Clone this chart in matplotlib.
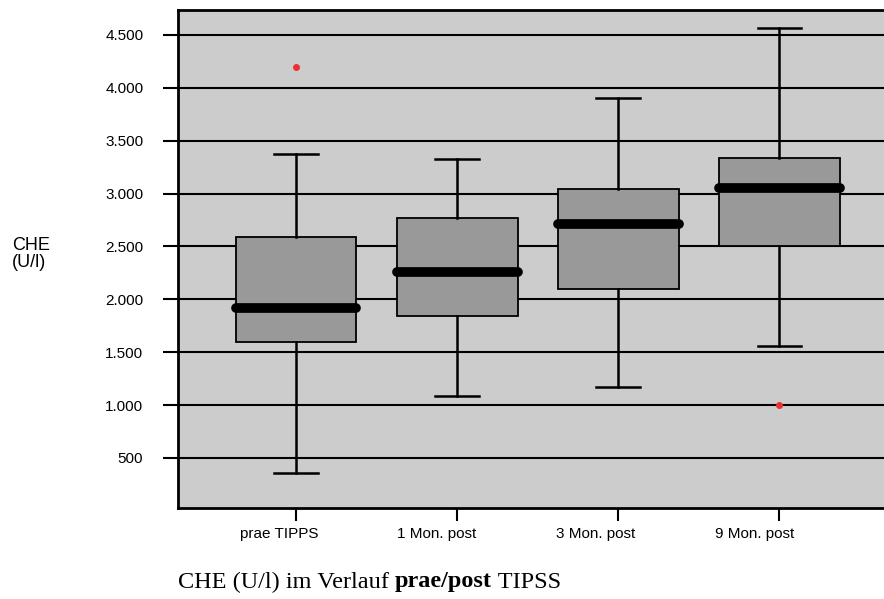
import matplotlib.pyplot as plt
import matplotlib.transforms as mtransforms
import numpy as np

groups = ["prae TIPPS", "1 Mon. post", "3 Mon. post", "9 Mon. post"]
whislo = [360, 1090, 1170, 1560]
q1 = [1600, 1840, 2100, 2500]
med = [1920, 2260, 2710, 3050]
q3 = [2590, 2770, 3040, 3340]
whishi = [3370, 3330, 3900, 4570]
fliers = [[4200], [], [], [1000]]

yticks = [500, 1000, 1500, 2000, 2500, 3000, 3500, 4000, 4500]
ytick_labels = ["500", "1.000", "1.500", "2.000", "2.500", "3.000", "3.500", "4.000", "4.500"]

stats = []
for i in range(len(groups)):
    stats.append(dict(label=groups[i], whislo=whislo[i], q1=q1[i], med=med[i],
                      q3=q3[i], whishi=whishi[i], fliers=fliers[i]))

fig = plt.figure(figsize=(8.84, 5.99), dpi=100)
ax = fig.add_axes([178/884, 1 - 508/599, 1 - 178/884, 498/599])
ax.set_facecolor("#cccccc")

pos = np.arange(1, len(groups) + 1)
ax.bxp(stats, positions=pos, widths=0.75, patch_artist=True,
       boxprops=dict(facecolor="#999999", edgecolor="black", linewidth=1.3),
       medianprops=dict(color="black", linewidth=7, solid_capstyle="round"),
       whiskerprops=dict(color="black", linewidth=1.8),
       capprops=dict(color="black", linewidth=1.8),
       capwidths=0.27,
       flierprops=dict(marker="o", markersize=4, markerfacecolor="#ee3030",
                       markeredgecolor="#ee3030"),
       zorder=3)

ax.set_xlim(0.267, 4.65)
ax.set_ylim(27, 4736)
ax.set_yticks(yticks)
ax.set_yticklabels(ytick_labels, family="Liberation Sans", fontsize=11)
ax.set_xticks(pos)
ax.set_xticklabels(groups, family="Liberation Sans", fontsize=11)
ax.tick_params(axis="y", length=11, width=1.5, color="black", direction="out", pad=14)
ax.tick_params(axis="x", length=9, width=1.5, color="black", direction="out", pad=5)
ax.yaxis.grid(True, color="black", linewidth=1.5)
ax.set_axisbelow(True)
for s in ["left", "bottom", "top"]:
    ax.spines[s].set_linewidth(2)
ax.spines["right"].set_visible(False)

# labels in the original sit a bit left of their ticks
shift_px = [-17, -21, -23, -25]
for lab, dx in zip(ax.get_xticklabels(), shift_px):
    lab.set_transform(lab.get_transform() +
                      mtransforms.ScaledTranslation(dx / 100, 0, fig.dpi_scale_trans))

fig.text(12/884, 1 - 254/599, "CHE\n(U/l)", family="Liberation Sans", fontsize=13,
         va="center", ha="left", linespacing=1.05)

# caption with bold part
r = fig.canvas.get_renderer()
x0 = 178 / 884
yc = 1 - 582/599
parts = [("CHE (U/l) im Verlauf ", "normal"), ("prae/post", "bold"), (" TIPSS", "normal")]
for txt, w in parts:
    t = fig.text(x0, yc, txt, family="Liberation Serif", fontsize=17.5, fontweight=w,
                 va="center", ha="left")
    bb = t.get_window_extent(renderer=r)
    x0 = x0 + bb.width / fig.bbox.width

fig.savefig("out.png", dpi=100)
